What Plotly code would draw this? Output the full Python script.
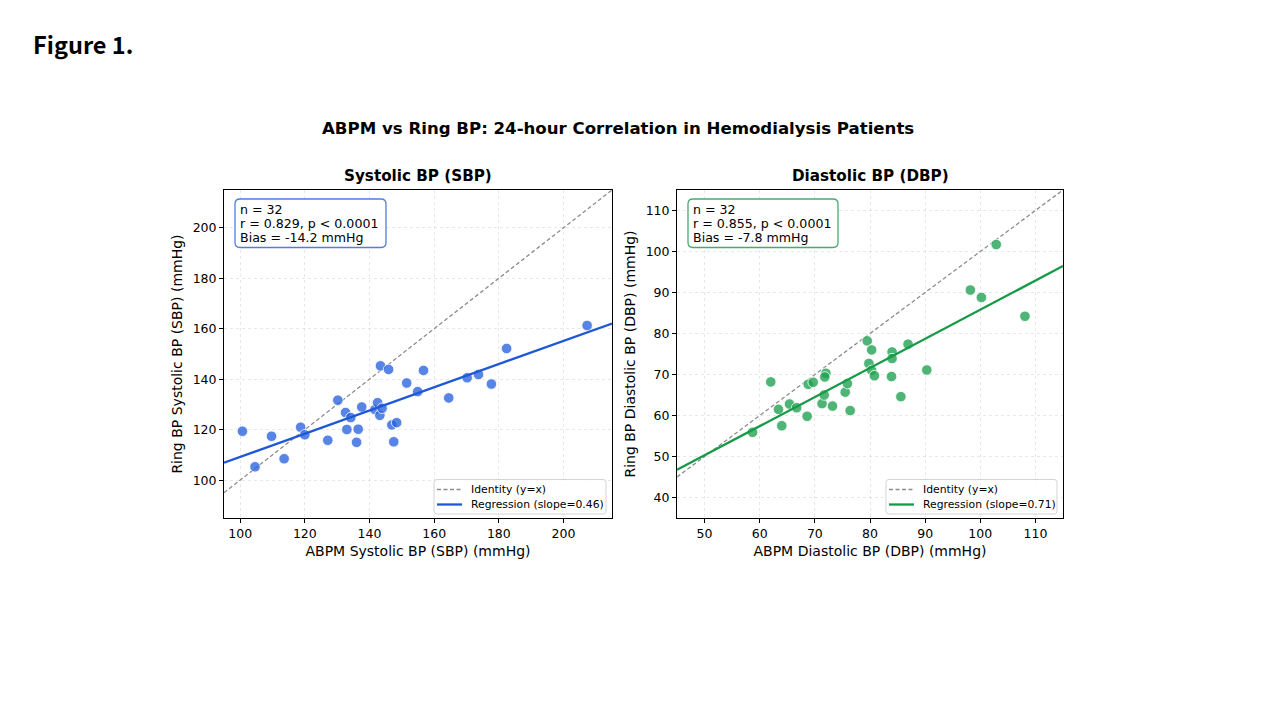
import plotly.graph_objects as go

# ---------------- data ----------------
sbp_abpm = [100.7, 104.6, 109.7, 113.6, 118.7, 120.0, 127.1, 130.2, 132.6, 133.0,
            134.2, 136.0, 136.5, 137.6, 141.7, 142.5, 143.2, 143.9, 143.4, 145.9,
            146.9, 147.5, 148.4, 151.5, 154.9, 156.7, 164.5, 170.2, 173.7, 177.7,
            182.4, 207.3]
sbp_ring = [119.4, 105.3, 117.4, 108.5, 121.0, 118.0, 115.8, 131.7, 126.8, 120.1,
            124.8, 115.0, 120.2, 129.0, 128.0, 130.7, 125.7, 128.5, 145.3, 143.9,
            121.9, 115.2, 122.8, 138.5, 135.1, 143.5, 132.6, 140.6, 141.9, 138.1,
            152.2, 161.3]

dbp_abpm = [58.7, 62.0, 63.4, 64.0, 65.4, 66.7, 68.6, 68.8, 69.7, 71.3,
            71.7, 72.0, 71.8, 73.2, 75.5, 75.9, 76.4, 79.5, 80.3, 79.8,
            80.3, 80.8, 84.0, 84.0, 83.9, 85.6, 86.9, 90.3, 98.2, 100.2,
            102.9, 108.1]
dbp_ring = [55.9, 68.2, 61.5, 57.5, 62.8, 61.9, 59.8, 67.6, 68.1, 62.9,
            65.0, 70.3, 69.4, 62.3, 65.7, 67.8, 61.2, 78.2, 76.0, 72.7,
            71.0, 69.7, 75.5, 73.9, 69.5, 64.6, 77.4, 71.1, 90.6, 88.8,
            101.7, 84.2]

sbp_range = [95, 215]
sbp_yrange = [85, 215]
dbp_range = [45, 115]
dbp_yrange = [35, 115]

sbp_slope, sbp_intercept = 0.46, 63.2
dbp_slope, dbp_intercept = 0.71, 14.8

sbp_stats = ["n = 32", "r = 0.829, p < 0.0001", "Bias = -14.2 mmHg"]
dbp_stats = ["n = 32", "r = 0.855, p < 0.0001", "Bias = -7.8 mmHg"]

sbp_ticks_x = [100, 120, 140, 160, 180, 200]
sbp_ticks_y = [100, 120, 140, 160, 180, 200]
dbp_ticks_x = [50, 60, 70, 80, 90, 100, 110]
dbp_ticks_y = [40, 50, 60, 70, 80, 90, 100, 110]

legend_labels_sbp = ["Identity (y=x)", f"Regression (slope={sbp_slope:.2f})"]
legend_labels_dbp = ["Identity (y=x)", f"Regression (slope={dbp_slope:.2f})"]

# ---------------- styling ----------------
W, H = 1280, 720
FONT = "DejaVu Sans"
BLUE_M = "rgba(40,98,222,0.78)"
BLUE_L = "#1f58d6"
BLUE_B = "#4f7fdc"
GREEN_M = "rgba(28,160,80,0.78)"
GREEN_L = "#169a47"
GREEN_B = "#4aa872"
GRAY = "#8c8c8c"
IDASH = "4px,2.5px"

fig = go.Figure()

def px(x):
    return x / W

def py(y):
    return 1 - y / H

def add_panel(xa, ya, xs, ys, xr, slope, icpt, mcol, lcol, names):
    fig.add_trace(go.Scatter(
        x=xr, y=xr, mode="lines", xaxis=xa, yaxis=ya,
        line=dict(color=GRAY, width=1.3, dash=IDASH),
        name=names[0], showlegend=False))
    fig.add_trace(go.Scatter(
        x=xs, y=ys, mode="markers", xaxis=xa, yaxis=ya,
        marker=dict(size=10.5, color=mcol, line=dict(color="white", width=0.8)),
        showlegend=False, name="Patients"))
    fig.add_trace(go.Scatter(
        x=xr, y=[slope * v + icpt for v in xr], mode="lines", xaxis=xa, yaxis=ya,
        line=dict(color=lcol, width=2.3),
        name=names[1], showlegend=False))

add_panel("x", "y", sbp_abpm, sbp_ring, sbp_range, sbp_slope, sbp_intercept,
          BLUE_M, BLUE_L, legend_labels_sbp)
add_panel("x2", "y2", dbp_abpm, dbp_ring, dbp_range, dbp_slope, dbp_intercept,
          GREEN_M, GREEN_L, legend_labels_dbp)

ydom = [py(518), py(190)]

def axis(dom, rng, ticks, title, anchor):
    return dict(
        domain=dom, range=rng, tickvals=ticks, anchor=anchor,
        showline=True, linecolor="black", linewidth=1, mirror=True,
        ticks="outside", ticklen=4, tickwidth=1, tickcolor="black",
        showgrid=True, gridcolor="rgba(190,190,190,0.35)", griddash="dot", gridwidth=1,
        zeroline=False,
        tickfont=dict(family=FONT, size=12.5, color="black"),
        title=dict(text=title, font=dict(family=FONT, size=14, color="black"), standoff=6),
    )

fig.update_layout(
    width=W, height=H,
    margin=dict(l=0, r=0, t=0, b=0),
    paper_bgcolor="white", plot_bgcolor="white",
    font=dict(family=FONT, color="black"),
    xaxis=axis([px(224), px(612)], sbp_range, sbp_ticks_x, "ABPM Systolic BP (SBP) (mmHg)", "y"),
    yaxis=axis(ydom, sbp_yrange, sbp_ticks_y, "Ring BP Systolic BP (SBP) (mmHg)", "x"),
    xaxis2=axis([px(677), px(1063)], dbp_range, dbp_ticks_x, "ABPM Diastolic BP (DBP) (mmHg)", "y2"),
    yaxis2=axis(ydom, dbp_yrange, dbp_ticks_y, "Ring BP Diastolic BP (DBP) (mmHg)", "x2"),
    showlegend=False,
)

def rounded_rect(x0, y0, x1, y1, r):
    # pixel coords -> paper path with rounded corners
    X = lambda v: f"{px(v):.6f}"
    Y = lambda v: f"{py(v):.6f}"
    return (f"M {X(x0 + r)} {Y(y0)} L {X(x1 - r)} {Y(y0)} "
            f"Q {X(x1)} {Y(y0)} {X(x1)} {Y(y0 + r)} L {X(x1)} {Y(y1 - r)} "
            f"Q {X(x1)} {Y(y1)} {X(x1 - r)} {Y(y1)} L {X(x0 + r)} {Y(y1)} "
            f"Q {X(x0)} {Y(y1)} {X(x0)} {Y(y1 - r)} L {X(x0)} {Y(y0 + r)} "
            f"Q {X(x0)} {Y(y0)} {X(x0 + r)} {Y(y0)} Z")

shapes = []
annotations = []

def stats_box(x0, x1, lines, color):
    shapes.append(dict(type="path", xref="paper", yref="paper", layer="above",
                       path=rounded_rect(x0, 199, x1, 247.5, 5),
                       line=dict(color=color, width=1.3), fillcolor="rgba(255,255,255,0.9)"))
    for i, t in enumerate(lines):
        annotations.append(dict(text=t, x=px(x0 + 3), y=py(209 + 14.2 * i),
                                xref="paper", yref="paper", xanchor="left", yanchor="middle",
                                showarrow=False, font=dict(family=FONT, size=12.6, color="black")))

def legend_box(x0, x1, labels, lcol):
    shapes.append(dict(type="path", xref="paper", yref="paper", layer="above",
                       path=rounded_rect(x0, 479.5, x1, 514, 3),
                       line=dict(color="#d4d4d4", width=1), fillcolor="rgba(255,255,255,0.85)"))
    rows = [489.5, 504.5]
    shapes.append(dict(type="line", xref="paper", yref="paper", layer="above",
                       x0=px(x0 + 3), x1=px(x0 + 28), y0=py(rows[0]), y1=py(rows[0]),
                       line=dict(color=GRAY, width=1.3, dash=IDASH)))
    shapes.append(dict(type="line", xref="paper", yref="paper", layer="above",
                       x0=px(x0 + 3), x1=px(x0 + 28), y0=py(rows[1]), y1=py(rows[1]),
                       line=dict(color=lcol, width=2.3)))
    for r, t in zip(rows, labels):
        annotations.append(dict(text=t, x=px(x0 + 35), y=py(r), xref="paper", yref="paper",
                                xanchor="left", yanchor="middle", showarrow=False,
                                font=dict(family=FONT, size=10.8, color="black")))

stats_box(235, 386, sbp_stats, BLUE_B)
stats_box(688, 838, dbp_stats, GREEN_B)
legend_box(434, 606, legend_labels_sbp, BLUE_L)
legend_box(886, 1057, legend_labels_dbp, GREEN_L)

annotations += [
    dict(text="<b>Figure 1.</b>", x=px(31), y=py(44), xref="paper", yref="paper",
         xanchor="left", yanchor="middle", showarrow=False,
         font=dict(family="Noto Sans CJK KR", size=23.5, color="black")),
    dict(text="<b>ABPM vs Ring BP: 24-hour Correlation in Hemodialysis Patients</b>",
         x=px(618), y=py(128), xref="paper", yref="paper",
         xanchor="center", yanchor="middle", showarrow=False,
         font=dict(family=FONT, size=16.6, color="black")),
    dict(text="<b>Systolic BP (SBP)</b>", x=px(418), y=py(175.5), xref="paper", yref="paper",
         xanchor="center", yanchor="middle", showarrow=False,
         font=dict(family=FONT, size=15.2, color="black")),
    dict(text="<b>Diastolic BP (DBP)</b>", x=px(870), y=py(175.5), xref="paper", yref="paper",
         xanchor="center", yanchor="middle", showarrow=False,
         font=dict(family=FONT, size=15.2, color="black")),
]

fig.update_layout(shapes=shapes, annotations=annotations)

fig.write_html("out.html")
